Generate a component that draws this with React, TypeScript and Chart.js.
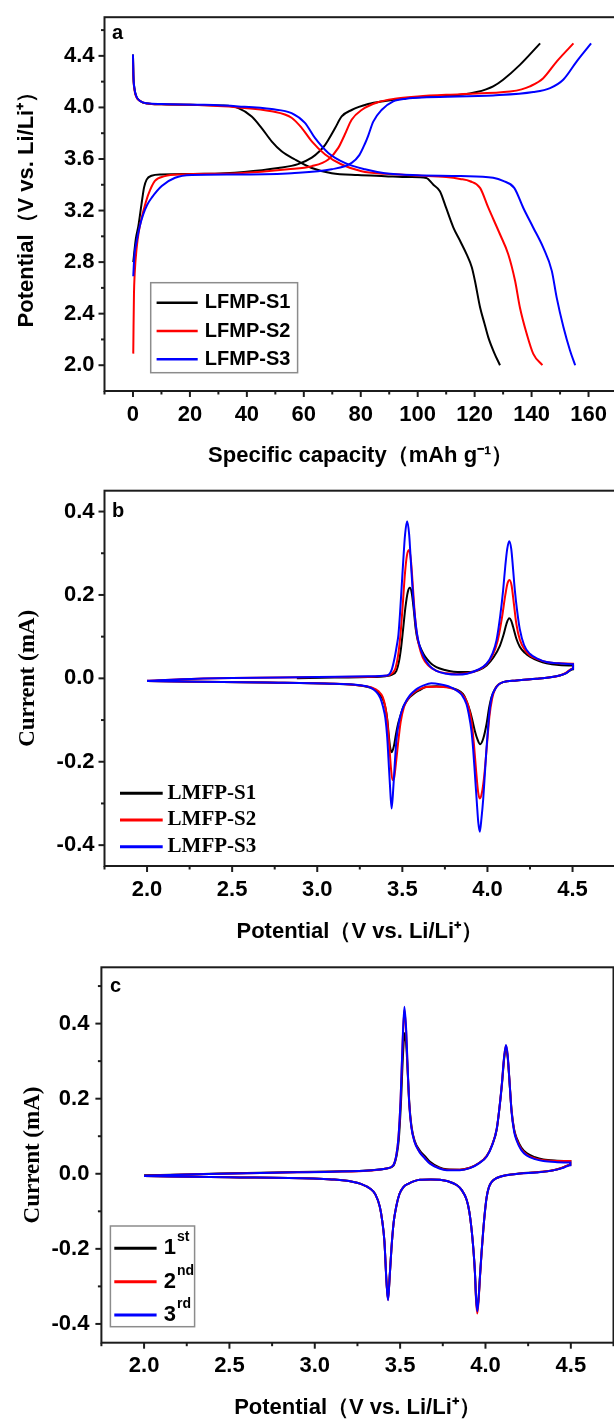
import React, { useEffect, useRef } from 'react';
import { Chart, registerables } from 'chart.js';

Chart.register(...registerables);

type Pt = [number, number];

// ================= Panel a: charge / discharge profiles (mAh/g, V) =================
const aSeriesNames = ['LFMP-S1', 'LFMP-S2', 'LFMP-S3'];

const s1Charge: Pt[] = [
  [0.1, 2.8], [1.0, 2.98], [1.9, 3.08], [3.0, 3.25], [3.9, 3.38], [4.8, 3.44], [6.5, 3.47], [10, 3.48],
  [25, 3.485], [39, 3.5], [51, 3.53], [58, 3.56], [62.8, 3.61], [65.5, 3.66], [67.5, 3.71], [71, 3.84],
  [73.3, 3.93], [76.8, 3.98], [82.6, 4.026], [88.5, 4.05], [95, 4.07], [109, 4.09], [116, 4.1],
  [120.7, 4.119], [124, 4.14], [126.5, 4.163], [130, 4.215], [135.9, 4.33], [143, 4.497],
];
const s1Discharge: Pt[] = [
  [0, 4.41], [0.15, 4.25], [0.5, 4.15], [1.2, 4.085], [2.5, 4.05], [5, 4.03], [10, 4.024], [20, 4.02],
  [31, 4.015], [37, 3.995], [41.7, 3.93], [45.2, 3.84], [48.7, 3.737], [52.2, 3.66], [56.9, 3.596],
  [62.8, 3.53], [69.8, 3.49], [79, 3.475], [88.5, 3.467], [97, 3.46], [103, 3.452], [105.5, 3.4],
  [107.8, 3.35], [110, 3.22], [112.5, 3.07], [115, 2.96], [117.2, 2.86], [119, 2.76], [120.1, 2.655],
  [121.9, 2.45], [123.5, 2.32], [124.8, 2.216], [126.8, 2.1], [128.9, 2.0],
];
const s2Charge: Pt[] = [
  [0.1, 2.09], [0.2, 2.3], [0.35, 2.55], [0.6, 2.71], [1.3, 2.91], [2.0, 3.03], [3.05, 3.144],
  [4.2, 3.24], [5.4, 3.325], [7.7, 3.43], [11.2, 3.467], [17.1, 3.48], [37, 3.49], [54.5, 3.52],
  [62.8, 3.544], [68.6, 3.596], [72.1, 3.686], [74.4, 3.79], [76.8, 3.905], [80.3, 3.98], [86, 4.04],
  [92, 4.068], [100, 4.085], [114.9, 4.103], [132.4, 4.124], [136.5, 4.14], [139.4, 4.163],
  [144.1, 4.227], [148.8, 4.356], [154.7, 4.497],
];
const s2Discharge: Pt[] = [
  [0, 4.4], [0.15, 4.24], [0.5, 4.14], [1.2, 4.08], [2.5, 4.05], [5, 4.03], [10, 4.024], [20, 4.02],
  [37, 4.0], [48.7, 3.97], [55.7, 3.92], [59.3, 3.84], [62.8, 3.737], [67.5, 3.635], [73.3, 3.557],
  [80.3, 3.505], [88.5, 3.485], [100, 3.472], [110, 3.46], [114.9, 3.445], [118.4, 3.427],
  [121.9, 3.376], [124.8, 3.222], [128.9, 3.016], [131.8, 2.861], [134.2, 2.655], [135.9, 2.448],
  [138.3, 2.243], [140.6, 2.088], [143.8, 2.0],
];
const s3Charge: Pt[] = [
  [0.1, 2.69], [0.5, 2.85], [1.3, 2.964], [2.4, 3.08], [3.6, 3.17], [5, 3.245], [6.6, 3.3], [10.1, 3.39],
  [14.8, 3.454], [20.6, 3.475], [37, 3.48], [55.7, 3.49], [69.8, 3.52], [76.8, 3.57], [79.5, 3.63],
  [81.5, 3.72], [82.6, 3.78], [84.4, 3.89], [87.3, 3.98], [91.4, 4.047], [96, 4.068], [103.2, 4.078],
  [126.5, 4.093], [140.6, 4.119], [146.5, 4.15], [151.1, 4.215], [155.8, 4.356], [160.9, 4.497],
];
const s3Discharge: Pt[] = [
  [0, 4.41], [0.15, 4.25], [0.5, 4.15], [1.2, 4.085], [2.5, 4.05], [5, 4.032], [10, 4.026], [25, 4.02],
  [37, 4.008], [48.7, 3.987], [55.7, 3.956], [60.4, 3.88], [63.9, 3.763], [68.6, 3.647], [74.4, 3.57],
  [81.5, 3.52], [88.5, 3.49], [100, 3.474], [115, 3.468], [126.5, 3.454], [130, 3.43], [133.9, 3.376],
  [137.1, 3.22], [140.6, 3.067], [144.1, 2.912], [147.1, 2.732], [148.8, 2.526], [151.2, 2.294],
  [153.5, 2.114], [155.3, 2.0],
];

const aXMajor = [0, 20, 40, 60, 80, 100, 120, 140, 160];
const aXLabels = ['0', '20', '40', '60', '80', '100', '120', '140', '160'];
const aXMinor = [-10, 10, 30, 50, 70, 90, 110, 130, 150, 170];
const aYMajor = [2.0, 2.4, 2.8, 3.2, 3.6, 4.0, 4.4];
const aYLabels = ['2.0', '2.4', '2.8', '3.2', '3.6', '4.0', '4.4'];
const aYMinor = [2.2, 2.6, 3.0, 3.4, 3.8, 4.2, 4.6];

// ================= Panel b: CV of the three samples (V, mA) =================
const bSeriesNames = ['LMFP-S1', 'LMFP-S2', 'LMFP-S3'];

const bS1: Pt[] = [
  [2.88, 0.0], [3.1, 0.002], [3.3, 0.003], [3.4, 0.005], [3.44, 0.009], [3.465, 0.018], [3.48, 0.04],
  [3.493, 0.075], [3.505, 0.12], [3.518, 0.17], [3.532, 0.207], [3.544, 0.217], [3.555, 0.205],
  [3.567, 0.165], [3.578, 0.12], [3.59, 0.092], [3.605, 0.075], [3.625, 0.058], [3.645, 0.046],
  [3.67, 0.035], [3.7, 0.027], [3.75, 0.02], [3.8, 0.016], [3.85, 0.015], [3.9, 0.015], [3.95, 0.02],
  [3.995, 0.031], [4.035, 0.05], [4.073, 0.078], [4.095, 0.105], [4.112, 0.131], [4.128, 0.144],
  [4.14, 0.138], [4.151, 0.123], [4.17, 0.095], [4.19, 0.076], [4.22, 0.061], [4.249, 0.052],
  [4.3, 0.042], [4.347, 0.036], [4.42, 0.032], [4.503, 0.031],
  [4.503, 0.022], [4.46, 0.012], [4.425, 0.007], [4.36, 0.002], [4.288, -0.001], [4.171, -0.005],
  [4.092, -0.009], [4.065, -0.015], [4.045, -0.025], [4.024, -0.045], [4.01, -0.07], [3.995, -0.109],
  [3.975, -0.145], [3.957, -0.158], [3.942, -0.147], [3.926, -0.126], [3.91, -0.098], [3.897, -0.078],
  [3.875, -0.052], [3.857, -0.038], [3.82, -0.027], [3.76, -0.021], [3.7, -0.019], [3.642, -0.02],
  [3.603, -0.028], [3.57, -0.036], [3.544, -0.045], [3.52, -0.058], [3.505, -0.069], [3.49, -0.088],
  [3.475, -0.109], [3.462, -0.135], [3.45, -0.163], [3.438, -0.177], [3.428, -0.165], [3.42, -0.135],
  [3.412, -0.1], [3.403, -0.075], [3.39, -0.055], [3.378, -0.045], [3.355, -0.032], [3.329, -0.025],
  [3.25, -0.017], [3.094, -0.013], [2.7, -0.01], [2.3, -0.008], [2.0, -0.0064],
];
const bS2: Pt[] = [
  [2.0, -0.006], [2.2, -0.002], [2.5, 0.001], [3.0, 0.003], [3.3, 0.004], [3.4, 0.006], [3.44, 0.012],
  [3.46, 0.025], [3.475, 0.055], [3.49, 0.11], [3.503, 0.18], [3.515, 0.25], [3.527, 0.295],
  [3.539, 0.308], [3.55, 0.285], [3.561, 0.225], [3.572, 0.16], [3.584, 0.11], [3.598, 0.078],
  [3.62, 0.05], [3.65, 0.032], [3.7, 0.018], [3.76, 0.012], [3.82, 0.01], [3.88, 0.012], [3.94, 0.019],
  [3.99, 0.032], [4.03, 0.055], [4.06, 0.09], [4.085, 0.145], [4.105, 0.2], [4.118, 0.228],
  [4.13, 0.236], [4.142, 0.222], [4.155, 0.18], [4.17, 0.13], [4.19, 0.093], [4.22, 0.068],
  [4.249, 0.055], [4.3, 0.045], [4.347, 0.039], [4.42, 0.036], [4.503, 0.035],
  [4.503, 0.024], [4.46, 0.013], [4.425, 0.007], [4.36, 0.002], [4.288, -0.001], [4.171, -0.005],
  [4.092, -0.009], [4.065, -0.015], [4.045, -0.026], [4.028, -0.048], [4.012, -0.09], [3.997, -0.16],
  [3.982, -0.23], [3.967, -0.275], [3.955, -0.288], [3.945, -0.272], [3.934, -0.225], [3.921, -0.16],
  [3.907, -0.105], [3.89, -0.07], [3.865, -0.045], [3.83, -0.031], [3.77, -0.022], [3.7, -0.02],
  [3.642, -0.021], [3.603, -0.026], [3.565, -0.035], [3.535, -0.048], [3.51, -0.068], [3.49, -0.105],
  [3.475, -0.155], [3.462, -0.205], [3.452, -0.238], [3.442, -0.244], [3.433, -0.215], [3.423, -0.16],
  [3.412, -0.105], [3.4, -0.068], [3.385, -0.045], [3.36, -0.031], [3.32, -0.022], [3.25, -0.017],
  [3.1, -0.013], [2.7, -0.01], [2.3, -0.008], [2.0, -0.0064],
];
const bS3: Pt[] = [
  [2.0, -0.006], [2.2, -0.002], [2.5, 0.001], [3.0, 0.003], [3.3, 0.005], [3.41, 0.007], [3.436, 0.019],
  [3.455, 0.05], [3.468, 0.08], [3.477, 0.105], [3.487, 0.16], [3.496, 0.22], [3.505, 0.28],
  [3.516, 0.345], [3.528, 0.377], [3.54, 0.345], [3.55, 0.28], [3.56, 0.215], [3.572, 0.155],
  [3.585, 0.11], [3.6, 0.08], [3.625, 0.052], [3.66, 0.03], [3.7, 0.018], [3.76, 0.011], [3.82, 0.009],
  [3.88, 0.011], [3.94, 0.02], [3.995, 0.035], [4.03, 0.06], [4.053, 0.091], [4.075, 0.15],
  [4.092, 0.211], [4.105, 0.27], [4.116, 0.31], [4.128, 0.329], [4.14, 0.31], [4.15, 0.265],
  [4.161, 0.211], [4.175, 0.16], [4.19, 0.118], [4.215, 0.08], [4.249, 0.059], [4.3, 0.046],
  [4.347, 0.039], [4.42, 0.036], [4.503, 0.034],
  [4.503, 0.023], [4.46, 0.012], [4.425, 0.007], [4.36, 0.002], [4.288, -0.001], [4.171, -0.005],
  [4.092, -0.009], [4.065, -0.015], [4.045, -0.026], [4.024, -0.047], [4.012, -0.08], [4.004, -0.115],
  [3.994, -0.17], [3.985, -0.228], [3.975, -0.29], [3.965, -0.335], [3.955, -0.368], [3.946, -0.345],
  [3.938, -0.3], [3.926, -0.228], [3.916, -0.17], [3.906, -0.126], [3.89, -0.085], [3.877, -0.062],
  [3.85, -0.04], [3.818, -0.029], [3.77, -0.019], [3.72, -0.014], [3.67, -0.012], [3.625, -0.017],
  [3.59, -0.024], [3.565, -0.032], [3.544, -0.041], [3.515, -0.06], [3.495, -0.08], [3.48, -0.105],
  [3.466, -0.145], [3.457, -0.195], [3.448, -0.255], [3.437, -0.312], [3.427, -0.255], [3.418, -0.19],
  [3.411, -0.141], [3.4, -0.095], [3.387, -0.069], [3.37, -0.047], [3.348, -0.033], [3.29, -0.019],
  [3.1, -0.013], [2.7, -0.01], [2.3, -0.008], [2.0, -0.0064],
];

const cvXMajor = [2.0, 2.5, 3.0, 3.5, 4.0, 4.5];
const cvXLabels = ['2.0', '2.5', '3.0', '3.5', '4.0', '4.5'];
const cvXMinor = [1.75, 2.25, 2.75, 3.25, 3.75, 4.25, 4.75];
const cvYMajor = [-0.4, -0.2, 0.0, 0.2, 0.4];
const cvYLabels = ['-0.4', '-0.2', '0.0', '0.2', '0.4'];
const bYMinor = [-0.3, -0.1, 0.1, 0.3];
const cYMinor = [-0.3, -0.1, 0.1, 0.3, 0.5];

// ================= Panel c: first three CV cycles (V, mA) =================
const cCycleNums = ['1', '2', '3'];
const cCycleSups = ['st', 'nd', 'rd'];

const cCycle1: Pt[] = [
  [2.0, -0.004], [2.3, -0.001], [2.76, 0.0035], [3.1, 0.006], [3.335, 0.0096], [3.42, 0.014],
  [3.461, 0.022], [3.48, 0.05], [3.492, 0.09], [3.505, 0.19], [3.516, 0.31], [3.527, 0.375],
  [3.537, 0.335], [3.546, 0.255], [3.555, 0.18], [3.567, 0.125], [3.585, 0.088], [3.615, 0.062],
  [3.645, 0.047], [3.675, 0.032], [3.73, 0.017], [3.773, 0.012], [3.85, 0.011], [3.909, 0.016],
  [3.96, 0.028], [4.007, 0.047], [4.04, 0.078], [4.066, 0.118], [4.083, 0.18], [4.097, 0.24],
  [4.108, 0.3], [4.12, 0.336], [4.13, 0.31], [4.14, 0.25], [4.153, 0.168], [4.168, 0.118],
  [4.183, 0.095], [4.21, 0.07], [4.241, 0.055], [4.29, 0.044], [4.339, 0.038], [4.42, 0.035],
  [4.497, 0.034],
  [4.497, 0.024], [4.45, 0.016], [4.397, 0.0096], [4.3, 0.004], [4.202, 0.0008], [4.12, -0.004],
  [4.085, -0.008], [4.055, -0.014], [4.036, -0.022], [4.02, -0.036], [4.007, -0.062], [3.997, -0.1],
  [3.987, -0.15], [3.977, -0.21], [3.968, -0.27], [3.96, -0.33], [3.952, -0.36], [3.945, -0.33],
  [3.938, -0.26], [3.929, -0.2], [3.919, -0.15], [3.905, -0.1], [3.89, -0.07], [3.86, -0.043],
  [3.831, -0.03], [3.78, -0.02], [3.733, -0.016], [3.68, -0.015], [3.616, -0.016], [3.587, -0.019],
  [3.55, -0.026], [3.518, -0.036], [3.496, -0.054], [3.477, -0.088], [3.462, -0.13], [3.449, -0.2],
  [3.438, -0.28], [3.429, -0.333], [3.42, -0.285], [3.408, -0.18], [3.395, -0.125], [3.381, -0.088],
  [3.355, -0.055], [3.323, -0.039], [3.27, -0.027], [3.22, -0.021], [3.1, -0.015], [2.99, -0.0125],
  [2.5, -0.009], [2.0, -0.006],
];
const cCycle2: Pt[] = [
  [2.0, -0.005], [2.3, -0.0015], [2.76, 0.003], [3.1, 0.0055], [3.335, 0.009], [3.42, 0.014],
  [3.459, 0.022], [3.478, 0.05], [3.49, 0.095], [3.503, 0.2], [3.514, 0.34], [3.525, 0.436],
  [3.535, 0.38], [3.544, 0.28], [3.553, 0.19], [3.565, 0.128], [3.583, 0.088], [3.612, 0.06],
  [3.643, 0.043], [3.675, 0.028], [3.73, 0.015], [3.773, 0.0105], [3.85, 0.0105], [3.909, 0.016],
  [3.96, 0.028], [4.007, 0.047], [4.04, 0.078], [4.066, 0.12], [4.083, 0.18], [4.097, 0.245],
  [4.108, 0.305], [4.12, 0.342], [4.13, 0.315], [4.14, 0.252], [4.153, 0.166], [4.168, 0.115],
  [4.183, 0.091], [4.21, 0.066], [4.241, 0.051], [4.29, 0.041], [4.339, 0.036], [4.42, 0.034],
  [4.497, 0.034],
  [4.497, 0.024], [4.45, 0.016], [4.397, 0.0095], [4.3, 0.004], [4.202, 0.0006], [4.12, -0.004],
  [4.085, -0.008], [4.055, -0.014], [4.036, -0.022], [4.02, -0.036], [4.007, -0.062], [3.997, -0.1],
  [3.987, -0.152], [3.977, -0.212], [3.968, -0.275], [3.96, -0.335], [3.952, -0.372], [3.945, -0.338],
  [3.938, -0.262], [3.929, -0.2], [3.919, -0.15], [3.905, -0.1], [3.89, -0.07], [3.86, -0.043],
  [3.831, -0.03], [3.78, -0.02], [3.733, -0.016], [3.68, -0.015], [3.616, -0.016], [3.587, -0.019],
  [3.55, -0.026], [3.518, -0.036], [3.496, -0.054], [3.477, -0.088], [3.462, -0.13], [3.449, -0.2],
  [3.438, -0.28], [3.429, -0.336], [3.42, -0.287], [3.408, -0.18], [3.395, -0.125], [3.381, -0.088],
  [3.355, -0.055], [3.323, -0.039], [3.27, -0.027], [3.22, -0.021], [3.1, -0.015], [2.99, -0.0125],
  [2.5, -0.009], [2.0, -0.006],
];
const cCycle3: Pt[] = [
  [2.0, -0.005], [2.3, -0.0015], [2.76, 0.003], [3.1, 0.0055], [3.335, 0.0095], [3.42, 0.014],
  [3.459, 0.022], [3.478, 0.05], [3.49, 0.095], [3.503, 0.2], [3.514, 0.345], [3.525, 0.445],
  [3.535, 0.388], [3.544, 0.285], [3.553, 0.19], [3.565, 0.127], [3.583, 0.087], [3.612, 0.059],
  [3.643, 0.042], [3.675, 0.027], [3.73, 0.014], [3.773, 0.0095], [3.85, 0.0095], [3.909, 0.015],
  [3.96, 0.027], [4.007, 0.046], [4.04, 0.077], [4.066, 0.12], [4.083, 0.18], [4.097, 0.245],
  [4.108, 0.306], [4.12, 0.343], [4.13, 0.316], [4.14, 0.252], [4.153, 0.164], [4.168, 0.112],
  [4.183, 0.088], [4.21, 0.063], [4.241, 0.049], [4.29, 0.039], [4.339, 0.034], [4.42, 0.031],
  [4.497, 0.03],
  [4.497, 0.023], [4.45, 0.015], [4.397, 0.009], [4.3, 0.0035], [4.202, 0.0005], [4.12, -0.004],
  [4.085, -0.008], [4.055, -0.014], [4.036, -0.022], [4.02, -0.036], [4.007, -0.062], [3.997, -0.1],
  [3.987, -0.15], [3.977, -0.21], [3.968, -0.272], [3.96, -0.33], [3.952, -0.366], [3.945, -0.333],
  [3.938, -0.26], [3.929, -0.2], [3.919, -0.15], [3.905, -0.1], [3.89, -0.07], [3.86, -0.043],
  [3.831, -0.03], [3.78, -0.02], [3.733, -0.016], [3.68, -0.015], [3.616, -0.016], [3.587, -0.019],
  [3.55, -0.026], [3.518, -0.036], [3.496, -0.054], [3.477, -0.088], [3.462, -0.13], [3.449, -0.2],
  [3.438, -0.28], [3.429, -0.337], [3.42, -0.288], [3.408, -0.18], [3.395, -0.125], [3.381, -0.088],
  [3.355, -0.055], [3.323, -0.039], [3.27, -0.027], [3.22, -0.021], [3.1, -0.015], [2.99, -0.0125],
  [2.5, -0.009], [2.0, -0.006],
];

// ================= styling =================
const COLORS = ['#000000', '#ff0000', '#0000ff'];
const SANS = '"Liberation Sans", Arial, Helvetica, sans-serif';
const SERIF = '"Liberation Serif", "Times New Roman", Times, serif';
const CANVAS_W = 630;

const labelFor = (major: number[], labels: string[]) => (v: any) => {
  const i = major.findIndex((m) => Math.abs(m - Number(v)) < 1e-9);
  return i >= 0 ? labels[i] : '';
};

function series(data: Pt[], colorIdx: number, label: string) {
  return {
    label,
    data: data.map(([x, y]) => ({ x, y })),
    showLine: true,
    borderColor: COLORS[colorIdx],
    backgroundColor: COLORS[colorIdx],
    borderWidth: 2,
    pointRadius: 0,
    pointHoverRadius: 0,
    cubicInterpolationMode: 'monotone',
    fill: false,
    order: 3 - colorIdx,
  };
}

function makeDeco(cfg: any) {
  return {
    id: 'deco',
    afterDraw(chart: any) {
      const { ctx, chartArea: ca } = chart;
      const xs = chart.scales.x;
      const ys = chart.scales.y;
      const seg = (x1: number, y1: number, x2: number, y2: number) => {
        ctx.beginPath();
        ctx.moveTo(x1, y1);
        ctx.lineTo(x2, y2);
        ctx.stroke();
      };
      ctx.save();
      ctx.strokeStyle = '#1c1c1c';
      ctx.lineWidth = 2;
      ctx.lineCap = 'butt';
      ctx.strokeRect(ca.left, ca.top, ca.right - ca.left, ca.bottom - ca.top);
      cfg.xMajor.forEach((v: number) => { const p = xs.getPixelForValue(v); seg(p, ca.bottom, p, ca.bottom + 6); });
      cfg.xMinor.forEach((v: number) => { const p = xs.getPixelForValue(v); seg(p, ca.bottom, p, ca.bottom + 3.5); });
      cfg.yMajor.forEach((v: number) => { const p = ys.getPixelForValue(v); seg(ca.left, p, ca.left - 6, p); });
      cfg.yMinor.forEach((v: number) => { const p = ys.getPixelForValue(v); seg(ca.left, p, ca.left - 3.5, p); });

      ctx.fillStyle = '#000';
      ctx.textAlign = 'left';
      ctx.textBaseline = 'middle';
      ctx.font = `bold 20px ${SANS}`;
      ctx.fillText(cfg.letter.text, cfg.letter.x, cfg.letter.y);

      const L = cfg.legend;
      if (L.box) {
        ctx.strokeStyle = '#8c8c8c';
        ctx.lineWidth = 1.5;
        ctx.strokeRect(L.box[0], L.box[1], L.box[2] - L.box[0], L.box[3] - L.box[1]);
      }
      L.items.forEach((it: any, i: number) => {
        const y = L.rows[i];
        ctx.strokeStyle = it.color;
        ctx.lineWidth = L.lineWidth;
        seg(L.lineX[0], y, L.lineX[1], y);
        ctx.fillStyle = '#000';
        ctx.font = L.font;
        ctx.fillText(it.text, L.textX, y);
        if (it.sup) {
          const w = ctx.measureText(it.text).width;
          ctx.font = L.supFont;
          ctx.fillText(it.sup, L.textX + w + 1, y - L.supRise);
        }
      });
      ctx.restore();
    },
  };
}

function buildAxis(p: any) {
  return {
    type: 'linear',
    min: p.min,
    max: p.max,
    afterBuildTicks: (s: any) => {
      s.ticks = [...p.major, ...p.minor].sort((a, b) => a - b).map((v) => ({ value: v }));
    },
    afterFit: (s: any) => {
      if (p.width !== undefined) s.width = p.width;
      if (p.height !== undefined) s.height = p.height;
    },
    grid: {
      display: true,
      drawOnChartArea: false,
      drawTicks: true,
      tickLength: 6,
      color: 'rgba(0,0,0,0)',
      tickColor: 'rgba(0,0,0,0)',
    },
    border: { display: false },
    ticks: {
      autoSkip: false,
      maxRotation: 0,
      minRotation: 0,
      padding: p.tickPad,
      color: '#000',
      font: { family: SANS, size: 22, weight: 'bold' },
      callback: labelFor(p.major, p.labels),
    },
    title: {
      display: true,
      text: p.title,
      color: '#000',
      font: p.titleFont,
      padding: p.titlePad,
    },
  };
}

function baseOptions(padTop: number, padRight: number, xAxis: any, yAxis: any) {
  return {
    responsive: false,
    maintainAspectRatio: false,
    animation: false,
    events: [],
    layout: { padding: { top: padTop, right: padRight, bottom: 0, left: 0 } },
    plugins: { legend: { display: false }, tooltip: { enabled: false }, title: { display: false } },
    scales: { x: xAxis, y: yAxis },
  };
}

const titleSans = { family: SANS, size: 22, weight: 'bold' };
const titleSerif = { family: SERIF, size: 23, weight: 'bold' };

function configA() {
  const curves: [Pt[], number][] = [
    [s1Charge, 0], [s1Discharge, 0], [s2Charge, 1], [s2Discharge, 1], [s3Charge, 2], [s3Discharge, 2],
  ];
  return {
    type: 'scatter',
    data: { datasets: curves.map(([d, c]) => series(d, c, aSeriesNames[c])) },
    options: baseOptions(
      15, 13,
      buildAxis({ min: -10, max: 170, major: aXMajor, minor: aXMinor, labels: aXLabels, height: 89, tickPad: 4.4,
        title: 'Specific capacity（mAh g⁻¹）', titleFont: titleSans, titlePad: { top: 0, bottom: 10.8 } }),
      buildAxis({ min: 1.8, max: 4.7, major: aYMajor, minor: aYMinor, labels: aYLabels, width: 104.5, tickPad: 4,
        title: 'Potential（V vs. Li/Li⁺）', titleFont: titleSans, titlePad: { top: 13.8, bottom: 0 } }),
    ),
    plugins: [makeDeco({
      xMajor: aXMajor, xMinor: aXMinor, yMajor: aYMajor, yMinor: aYMinor,
      letter: { text: 'a', x: 112, y: 33 },
      legend: {
        box: [150.7, 282.7, 297.6, 372.7], lineX: [156.6, 197.7], textX: 204.8, rows: [302.7, 331, 359.3],
        lineWidth: 2.5, font: `bold 20px ${SANS}`,
        items: aSeriesNames.map((t, i) => ({ text: t, color: COLORS[i] })),
      },
    })],
  };
}

function configB() {
  const loops: Pt[][] = [bS1, bS2, bS3];
  return {
    type: 'scatter',
    data: { datasets: loops.map((d, i) => series(d, i, bSeriesNames[i])) },
    options: baseOptions(
      20.7, 14.9,
      buildAxis({ min: 1.75, max: 4.75, major: cvXMajor, minor: cvXMinor, labels: cvXLabels, height: 84, tickPad: 4.4,
        title: 'Potential（V vs. Li/Li⁺）', titleFont: titleSans, titlePad: { top: 0, bottom: 5.3 } }),
      buildAxis({ min: -0.45, max: 0.45, major: cvYMajor, minor: bYMinor, labels: cvYLabels, width: 104.5, tickPad: 4,
        title: 'Current (mA)', titleFont: titleSerif, titlePad: { top: 14.6, bottom: 0 } }),
    ),
    plugins: [makeDeco({
      xMajor: cvXMajor, xMinor: cvXMinor, yMajor: cvYMajor, yMinor: bYMinor,
      letter: { text: 'b', x: 112, y: 41 },
      legend: {
        box: null, lineX: [120, 162.7], textX: 167.6, rows: [323.3, 350, 376.7],
        lineWidth: 3, font: `bold 21px ${SERIF}`,
        items: bSeriesNames.map((t, i) => ({ text: t, color: COLORS[i] })),
      },
    })],
  };
}

function configC() {
  const loops: Pt[][] = [cCycle1, cCycle2, cCycle3];
  return {
    type: 'scatter',
    data: { datasets: loops.map((d, i) => series(d, i, cCycleNums[i] + cCycleSups[i])) },
    options: baseOptions(
      22.3, 16.5,
      buildAxis({ min: 1.75, max: 4.75, major: cvXMajor, minor: cvXMinor, labels: cvXLabels, height: 82.3, tickPad: 4.4,
        title: 'Potential（V vs. Li/Li⁺）', titleFont: titleSans, titlePad: { top: 0, bottom: 4.3 } }),
      buildAxis({ min: -0.45, max: 0.55, major: cvYMajor, minor: cYMinor, labels: cvYLabels, width: 101.4, tickPad: 6,
        title: 'Current (mA)', titleFont: titleSerif, titlePad: { top: 19.4, bottom: 0 } }),
    ),
    plugins: [makeDeco({
      xMajor: cvXMajor, xMinor: cvXMinor, yMajor: cvYMajor, yMinor: cYMinor,
      letter: { text: 'c', x: 110, y: 41.7 },
      legend: {
        box: [110.4, 281, 194.6, 381.7], lineX: [114.3, 156.6], textX: 163.7, rows: [303.3, 336.7, 370],
        lineWidth: 3, font: `bold 22px ${SANS}`, supFont: `bold 14px ${SANS}`, supRise: 11,
        items: cCycleNums.map((t, i) => ({ text: t, sup: cCycleSups[i], color: COLORS[i] })),
      },
    })],
  };
}

function Panel({ top, height, make }: { top: number; height: number; make: () => any }) {
  const ref = useRef<HTMLCanvasElement | null>(null);
  useEffect(() => {
    if (!ref.current) return;
    const chart = new Chart(ref.current, make());
    return () => chart.destroy();
  }, []);
  return (
    <div style={{ position: 'absolute', left: 0, top, width: CANVAS_W, height }}>
      <canvas ref={ref} width={CANVAS_W} height={height} style={{ width: CANVAS_W, height, display: 'block' }} />
    </div>
  );
}

export default function App() {
  return (
    <div style={{ position: 'absolute', left: 0, top: 0, width: 614, height: 1419, overflow: 'hidden', background: '#fff' }}>
      <Panel top={0} height={480} make={configA} />
      <Panel top={470} height={480} make={configB} />
      <Panel top={945} height={480} make={configC} />
    </div>
  );
}
